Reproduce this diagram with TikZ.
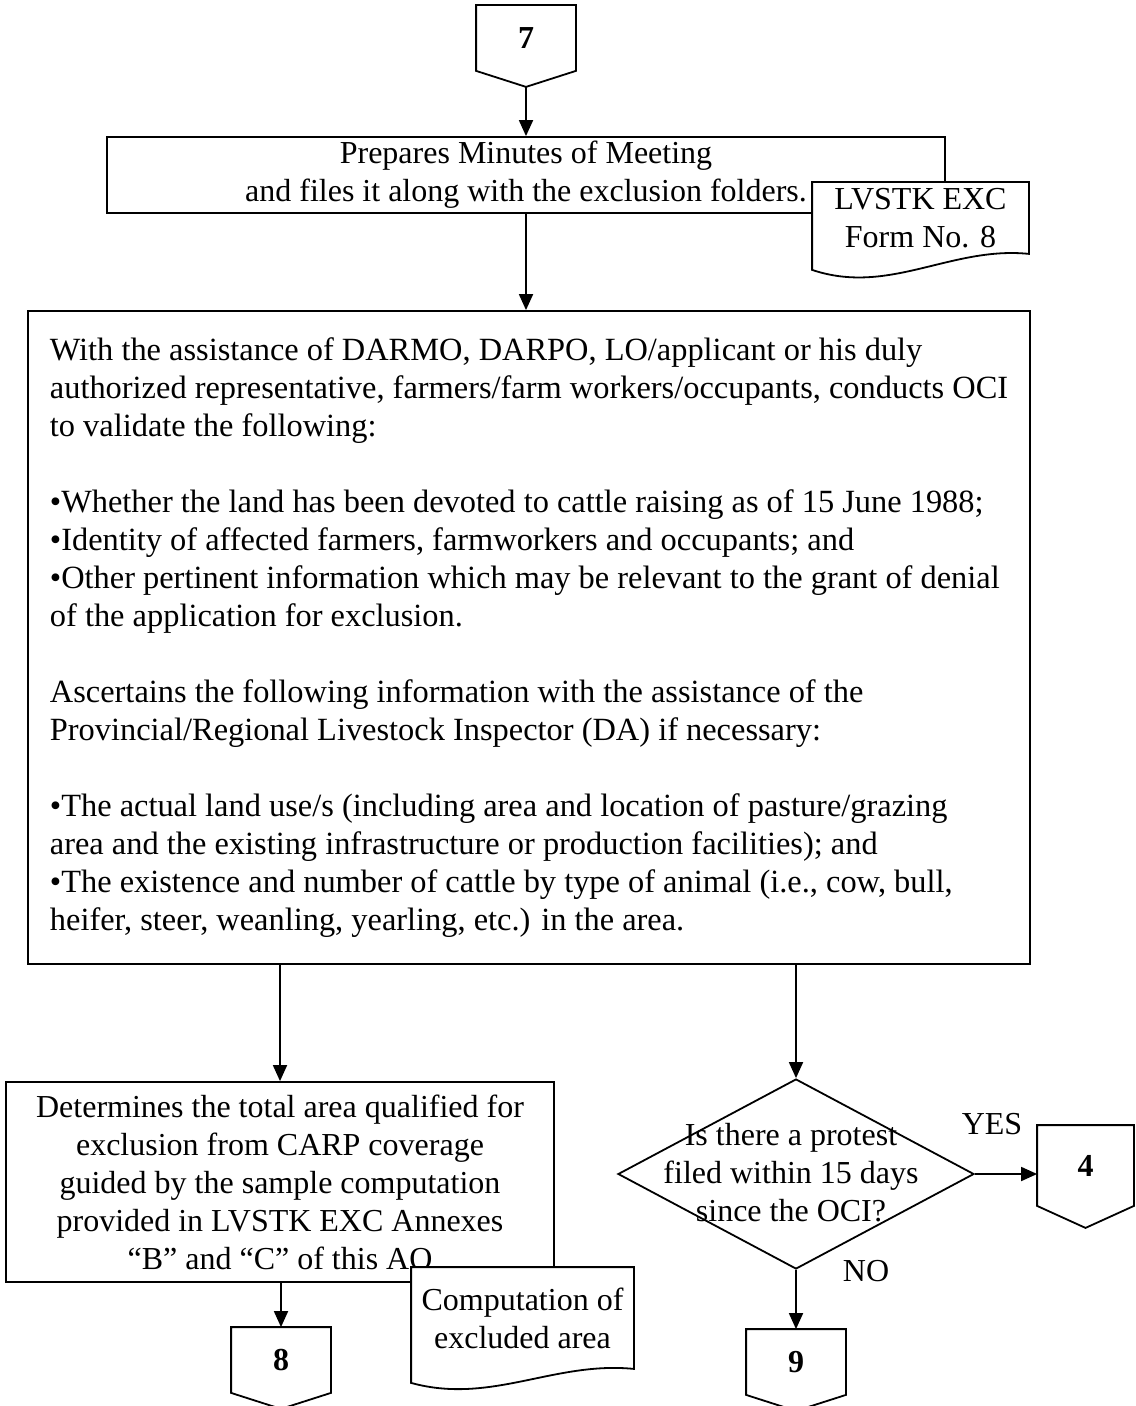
\documentclass[tikz,border=0pt]{standalone}
\usepackage{fontspec}
\setmainfont{Liberation Serif}
\usetikzlibrary{shapes.geometric, positioning, arrows.meta}

\tikzset{
  pg/.style={minimum width=49pt, minimum height=32pt, inner sep=0pt, font=\fontsize{16}{19}\bfseries},
  box/.style={draw, rectangle, inner sep=0pt, align=center},
  doc/.style={rectangle, fill=white, inner sep=0pt, align=center},
  decision/.style={draw, diamond, inner sep=0pt, minimum width=178pt, minimum height=95pt},
}

\begin{document}
\begin{tikzpicture}[x=0.5pt, y=-0.5pt, line width=0.9pt, >={Triangle[length=8pt,width=7pt]}, font=\fontsize{16}{19}\selectfont]
    \useasboundingbox (0,0) rectangle (1135,1406);

    % page connector 7
    \node[pg] (c7) at (526,38) {7};
    \draw (c7.north west) -| (c7.south east) -- ([yshift=-8pt]c7.south) -- (c7.south west) -- cycle;
    \coordinate (c7tip) at ([yshift=-8pt]c7.south);

    \node[box, minimum width=419pt, minimum height=38pt] (meet) at (526,175)
        {Prepares Minutes of Meeting\\and files it along with the exclusion folders.};
    \node[doc, minimum width=107.5pt, minimum height=35pt] (form8) at (920.5,218) {LVSTK EXC\\Form No. 8};
    \draw (form8.north west) -- (form8.north east) -- (form8.south east)
        .. controls +(-78,-8) and +(77,26) .. ([yshift=-8pt]form8.south west) -- cycle;

    \node[box, minimum width=501pt, minimum height=326.5pt, align=left, font=\fontsize{16.2}{19}\selectfont] (oci) at (529,637.5)
        {With the assistance of DARMO, DARPO, LO/applicant or his duly\\
        authorized representative, farmers/farm workers/occupants, conducts OCI\\
        to validate the following:\\[19pt]
        •Whether the land has been devoted to cattle raising as of 15 June 1988;\\
        •Identity of affected farmers, farmworkers and occupants; and\\
        •Other pertinent information which may be relevant to the grant of denial\\
        of the application for exclusion.\\[19pt]
        Ascertains the following information with the assistance of the\\
        Provincial/Regional Livestock Inspector (DA) if necessary:\\[19pt]
        •The actual land use/s (including area and location of pasture/grazing\\
        area and the existing infrastructure or production facilities); and\\
        •The existence and number of cattle by type of animal (i.e., cow, bull,\\
        heifer, steer, weanling, yearling, etc.) in the area.};

    % left branch
    \node[box, minimum width=274pt, minimum height=100pt] (area) at (280,1182)
        {Determines the total area qualified for\\exclusion from CARP coverage\\guided by the sample computation\\provided in LVSTK EXC Annexes\\“B” and “C” of this AO};
    \node[doc, minimum width=110.5pt, minimum height=50pt] (comp) at (522.5,1318) {Computation of\\excluded area};
    \draw (comp.north west) -- (comp.north east) -- (comp.south east)
        .. controls +(-80,-8) and +(80,22) .. ([yshift=-7pt]comp.south west) -- cycle;
    \node[pg] (c8) at (281,1360) {8};
    \draw (c8.north west) -| (c8.south east) -- ([yshift=-8pt]c8.south) -- (c8.south west) -- cycle;

    % right branch
    \node[decision] (protest) at (796,1174) {};
    \node[align=center, inner sep=0pt] (protestq) at (791,1173) {Is there a protest\\filed within 15 days\\since the OCI?};
    \node[pg, minimum width=47.5pt, minimum height=39.5pt] (c4) at (1085.5,1165.5) {4};
    \draw (c4.north west) -| (c4.south east) -- ([yshift=-11pt]c4.south) -- (c4.south west) -- cycle;
    \node[pg] (c9) at (796,1362) {9};
    \draw (c9.north west) -| (c9.south east) -- ([yshift=-8pt]c9.south) -- (c9.south west) -- cycle;
    \node (yes) at (992,1124) {YES};
    \node (no) at (866,1271) {NO};

    \draw[->] (c7tip) -- (meet);
    \draw[->] (meet.south) -- (meet.south |- oci.north);
    \draw[->] (area.north |- oci.south) -- (area.north);
    \draw[->] (protest.north |- oci.south) -- (protest.north);
    \draw[->] (area.south -| c8.north) -- (c8.north);
    \draw[->] (protest.east) -- (protest.east -| c4.west);
    \draw[->] (protest.south) -- (c9.north);
\end{tikzpicture}
\end{document}
